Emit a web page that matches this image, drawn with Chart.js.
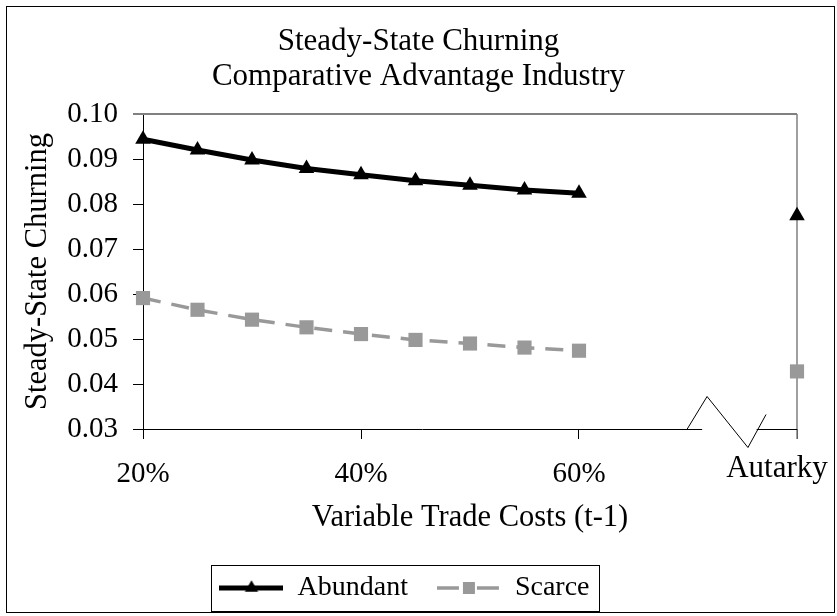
<!doctype html>
<html>

<head>
    <meta charset="UTF-8">
    <title>Steady-State Churning</title>
    <script src="https://cdn.jsdelivr.net/npm/chart.js"></script>
    <style>
        body {
            margin: 0;
            background-color: #fff;
        }

        #wrap {
            width: 837px;
            height: 616px;
        }
    </style>
</head>

<body>
    <div id="wrap"><canvas id="churning" width="837" height="616"></canvas></div>

    <script>
        // data
        var tradeCosts = [0.20, 0.25, 0.30, 0.35, 0.40, 0.45, 0.50, 0.55, 0.60];
        var abundant = [0.0944, 0.0920, 0.0898, 0.0879, 0.0865, 0.0852, 0.0842, 0.0831, 0.0824];
        var scarce = [0.0591, 0.0565, 0.0543, 0.0526, 0.0511, 0.0498, 0.0490, 0.0481, 0.0474];
        var autarkyX = 0.80;
        var autarkyAbundant = 0.0774;
        var autarkyScarce = 0.0428;
        var xTickValues = [0.20, 0.40, 0.60, 0.80];
        var autarkyLabel = 'Autarky';
        var seriesNames = ['Abundant', 'Scarce'];

        var serif = "'Liberation Serif', 'Times New Roman', serif";
        Chart.defaults.font.family = serif;
        Chart.defaults.font.size = 29;
        Chart.defaults.color = '#000';

        function points(values, autarkyValue) {
            var pts = tradeCosts.map(function (c, i) {
                return { x: c, y: values[i] };
            });
            pts.push({ x: 0.70, y: null }); // gap before autarky
            pts.push({ x: autarkyX, y: autarkyValue });
            return pts;
        }

        // small canvas with line + marker, used as the legend symbol
        function legendIcon(ds) {
            var c = document.createElement('canvas');
            c.width = 64;
            c.height = 24;
            var ctx = c.getContext('2d');
            ctx.strokeStyle = ds.borderColor;
            ctx.lineWidth = ds.borderWidth;
            if (ds.borderDash) {
                ctx.setLineDash([22, 18]);
            }
            ctx.beginPath();
            ctx.moveTo(0, 12);
            ctx.lineTo(64, 12);
            ctx.stroke();
            ctx.setLineDash([]);
            ctx.fillStyle = ds.pointBackgroundColor;
            Chart.helpers.drawPoint(ctx, {
                pointStyle: ds.pointStyle,
                radius: ds.pointRadius * 0.85,
                rotation: 0,
                borderWidth: 0
            }, 32, 12);
            return c;
        }

        var frame = {
            id: 'frame',
            beforeDraw: function (chart) {
                var ctx = chart.ctx;
                ctx.save();
                ctx.fillStyle = '#fff';
                ctx.fillRect(0, 0, chart.width, chart.height);
                ctx.strokeStyle = '#000';
                ctx.lineWidth = 1;
                ctx.strokeRect(6.5, 6.5, chart.width - 9, chart.height - 10);
                ctx.restore();
            },
            afterLayout: function (chart) {
                // legend sits a bit left of centre in the original
                chart.legend.left -= 14;
                chart.legend.right -= 14;
            },
            beforeDatasetsDraw: function (chart) {
                var ctx = chart.ctx;
                var xs = chart.scales.x;
                var area = chart.chartArea;
                var yb = Math.round(area.bottom) + 0.5;
                var px = function (v) { return xs.getPixelForValue(v); };
                ctx.save();

                // top border of plot area
                ctx.strokeStyle = '#808080';
                ctx.lineWidth = 2;
                ctx.beginPath();
                ctx.moveTo(area.left - 10, area.top);
                ctx.lineTo(area.right, area.top);
                ctx.stroke();

                // autarky vertical line
                ctx.lineWidth = 1.5;
                ctx.beginPath();
                ctx.moveTo(px(autarkyX), area.top);
                ctx.lineTo(px(autarkyX), area.bottom + 10);
                ctx.stroke();

                // x axis with break
                ctx.strokeStyle = '#000';
                ctx.lineWidth = 1;
                ctx.beginPath();
                ctx.moveTo(area.left, yb);
                ctx.lineTo(px(0.713), yb);
                ctx.moveTo(px(0.763), yb);
                ctx.lineTo(px(autarkyX), yb);
                ctx.moveTo(px(0.699), yb);
                ctx.lineTo(px(0.7175), yb - 33);
                ctx.lineTo(px(0.755), yb + 18);
                ctx.lineTo(px(0.7716), yb - 15);
                ctx.stroke();
                ctx.restore();
            },
            afterDraw: function (chart) {
                var ctx = chart.ctx;
                var xs = chart.scales.x;
                var area = chart.chartArea;
                ctx.save();
                ctx.font = '31px ' + serif;
                ctx.fillStyle = '#000';
                ctx.textAlign = 'center';
                ctx.textBaseline = 'alphabetic';
                ctx.fillText(autarkyLabel, xs.getPixelForValue(autarkyX) - 20, area.bottom + 48);

                // legend box
                var boxes = chart.legend.legendHitBoxes;
                if (boxes && boxes.length) {
                    var first = boxes[0], last = boxes[boxes.length - 1];
                    ctx.strokeStyle = '#000';
                    ctx.lineWidth = 1;
                    ctx.strokeRect(Math.round(first.left - 8) + 0.5, Math.round(first.top - 9) + 0.5,
                        Math.round(last.left + last.width - first.left + 18), Math.round(first.height + 18));
                }
                ctx.restore();
            }
        };

        var chart = new Chart(document.getElementById('churning').getContext('2d'), {
            type: 'line',
            data: {
                datasets: [{
                    label: seriesNames[0],
                    data: points(abundant, autarkyAbundant),
                    borderColor: '#000',
                    backgroundColor: '#000',
                    borderWidth: 5,
                    pointStyle: 'triangle',
                    pointRadius: 9,
                    pointBackgroundColor: '#000',
                    pointBorderWidth: 0,
                    tension: 0,
                    spanGaps: false,
                    clip: false
                }, {
                    label: seriesNames[1],
                    data: points(scarce, autarkyScarce),
                    borderColor: '#999999',
                    backgroundColor: '#999999',
                    borderWidth: 3.5,
                    borderDash: [18, 11],
                    pointStyle: 'rect',
                    pointRadius: 10,
                    pointBackgroundColor: '#999999',
                    pointBorderWidth: 0,
                    tension: 0,
                    spanGaps: false,
                    clip: false
                }]
            },
            options: {
                responsive: false,
                animation: false,
                layout: {
                    padding: { left: 40, right: 40, top: 0, bottom: 4 }
                },
                scales: {
                    x: {
                        type: 'linear',
                        min: 0.20,
                        max: autarkyX,
                        afterBuildTicks: function (scale) {
                            scale.ticks = xTickValues.map(function (v) { return { value: v }; });
                        },
                        afterFit: function (scale) {
                            scale.height = 116;
                        },
                        ticks: {
                            padding: 18,
                            maxRotation: 0,
                            autoSkip: false,
                            callback: function (v) {
                                return v === autarkyX ? '' : Math.round(v * 100) + '%';
                            }
                        },
                        grid: {
                            drawOnChartArea: false,
                            tickLength: 10,
                            color: '#000'
                        },
                        border: { display: false },
                        title: {
                            display: true,
                            text: 'Variable Trade Costs (t-1)',
                            font: { size: 30.5 },
                            padding: { top: 0, bottom: 9 }
                        }
                    },
                    y: {
                        min: 0.03,
                        max: 0.10,
                        afterFit: function (scale) {
                            scale.width = 103;
                        },
                        ticks: {
                            stepSize: 0.01,
                            padding: 15,
                            callback: function (v) { return v.toFixed(2); }
                        },
                        grid: {
                            drawOnChartArea: false,
                            tickLength: 10,
                            color: '#000'
                        },
                        border: { display: true, color: '#000', width: 1 },
                        title: {
                            display: true,
                            text: 'Steady-State Churning',
                            font: { size: 30.5 },
                            padding: { top: -20, bottom: 0 }
                        }
                    }
                },
                plugins: {
                    title: {
                        display: true,
                        text: ['Steady-State Churning', 'Comparative Advantage Industry'],
                        font: { size: 31, weight: 'normal', lineHeight: 1.13 },
                        color: '#000',
                        padding: { top: 24.5, bottom: 19.5 }
                    },
                    legend: {
                        position: 'bottom',
                        labels: {
                            usePointStyle: true,
                            pointStyleWidth: 64,
                            padding: 29,
                            font: { size: 28 },
                            color: '#000',
                            generateLabels: function (chart) {
                                return chart.data.datasets.map(function (ds, i) {
                                    return {
                                        text: ds.label,
                                        pointStyle: legendIcon(ds),
                                        datasetIndex: i,
                                        hidden: false,
                                        lineWidth: 0,
                                        fontColor: '#000'
                                    };
                                });
                            }
                        }
                    },
                    tooltip: { enabled: false }
                }
            },
            plugins: [frame]
        });
    </script>
</body>

</html>
